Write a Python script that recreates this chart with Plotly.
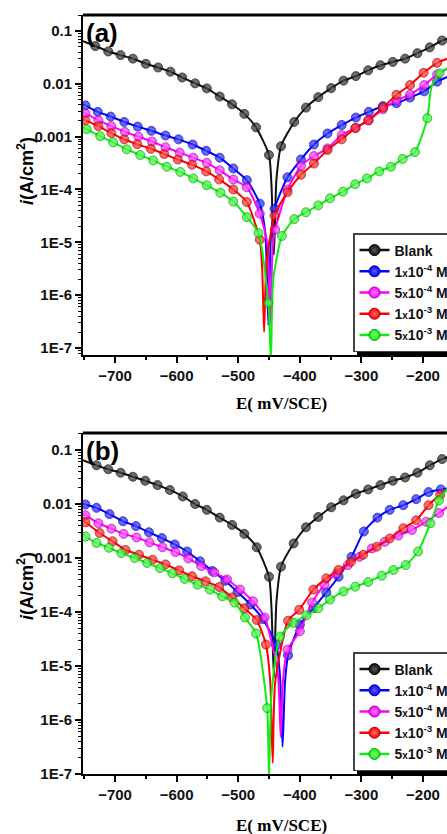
import plotly.graph_objects as go

# ---------------- Panel (a) ----------------
E_A_BLANK = [-732, -711, -691, -671, -650, -630, -610, -591, -570, -551, -530, -510, -490, -471, -450,
             -430.5, -409, -390, -370, -349, -329, -309, -289, -269, -249, -229, -209, -189, -169]
I_A_BLANK = [5.2e-2, 4.1e-2, 3.5e-2, 3.0e-2, 2.4e-2, 2.04e-2, 1.7e-2, 1.32e-2, 1.02e-2, 8.2e-3, 5.75e-3, 4.1e-3, 2.7e-3, 1.5e-3, 4.5e-4,
             6.6e-4, 1.9e-3, 3.55e-3, 5.6e-3, 8.3e-3, 1.15e-2, 1.4e-2, 1.8e-2, 2.25e-2, 2.6e-2, 3.0e-2, 3.8e-2, 4.9e-2, 6.6e-2]
E_A_BLANK_LINE = [-752, -446, -442, -438, -160]
I_A_BLANK_LINE = [6.4e-2, 1.2e-4, 5.8e-6, 1.5e-4, 7.1e-2]

E_A_1E4 = [-748, -728, -707, -685, -663, -641, -618, -597, -574, -552, -530, -508, -486, -465,
           -441, -420, -398, -377, -355, -332, -309, -288, -265, -243, -221, -198, -177]
I_A_1E4 = [3.9e-3, 2.95e-3, 2.4e-3, 1.9e-3, 1.55e-3, 1.29e-3, 1.05e-3, 8.9e-4, 7.1e-4, 5.4e-4, 4.0e-4, 2.5e-4, 1.5e-4, 5.4e-5,
           4.3e-5, 1.7e-4, 3.7e-4, 7.1e-4, 1.15e-3, 1.66e-3, 2.3e-3, 2.95e-3, 3.8e-3, 4.3e-3, 5.5e-3, 7.2e-3, 1.1e-2]
E_A_1E4_LINE = [-752, -456, -451, -447, -160]
I_A_1E4_LINE = [4.1e-3, 1.5e-5, 2.7e-7, 1.2e-5, 1.35e-2]

E_A_5E4 = [-748, -727, -706, -684, -662, -640, -618, -595, -573, -551, -530, -508, -486, -465,
           -440, -420, -398, -377, -355, -332, -309, -288, -265, -243, -221, -198, -177]
I_A_5E4 = [2.75e-3, 2.04e-3, 1.58e-3, 1.23e-3, 1.0e-3, 8.1e-4, 6.3e-4, 5.0e-4, 4.0e-4, 3.2e-4, 2.3e-4, 1.55e-4, 1.1e-4, 3.5e-5,
           1.74e-5, 1.0e-4, 2.8e-4, 4.3e-4, 6.0e-4, 1.07e-3, 1.48e-3, 2.04e-3, 3.3e-3, 4.8e-3, 6.3e-3, 9.5e-3, 1.5e-2]
E_A_5E4_LINE = [-752, -453, -448, -444, -160]
I_A_5E4_LINE = [2.9e-3, 1.0e-5, 2.9e-7, 8e-6, 1.95e-2]

E_A_1E3 = [-748, -727, -706, -685, -664, -642, -620, -598, -575, -552, -531, -508, -486, -465,
           -441, -420, -398, -377, -355, -332, -310, -289, -265, -243, -221, -199, -177]
I_A_1E3 = [2.04e-3, 1.58e-3, 1.17e-3, 8.9e-4, 7.2e-4, 5.9e-4, 4.7e-4, 3.7e-4, 2.95e-4, 2.2e-4, 1.55e-4, 1.0e-4, 5.8e-5, 1.12e-5,
           3.2e-5, 8.9e-5, 1.9e-4, 3.1e-4, 5.6e-4, 8.9e-4, 1.45e-3, 2.04e-3, 3.55e-3, 6.2e-3, 9.5e-3, 1.62e-2, 2.5e-2]
E_A_1E3_LINE = [-752, -461, -458, -454, -160]
I_A_1E3_LINE = [2.15e-3, 3e-6, 2.0e-7, 4e-6, 3.0e-2]

E_A_5E3 = [-746, -724, -703, -681, -659, -638, -616, -594, -573, -551, -529, -508, -486, -467, -451,
           -429, -409, -390, -370, -351, -330, -310, -291, -271, -252, -233, -213, -193, -173]
I_A_5E3 = [1.38e-3, 1.02e-3, 7.8e-4, 5.75e-4, 4.5e-4, 3.55e-4, 2.7e-4, 2.15e-4, 1.62e-4, 1.2e-4, 8.7e-5, 5.9e-5, 3.0e-5, 1.5e-5, 7.1e-7,
           1.32e-5, 2.75e-5, 3.7e-5, 5.0e-5, 6.8e-5, 9.1e-5, 1.26e-4, 1.62e-4, 2.2e-4, 2.7e-4, 3.8e-4, 5.1e-4, 2.24e-3, 1.58e-2]
E_A_5E3_LINE = [-752, -447, -443, -186, -160]
I_A_5E3_LINE = [1.5e-3, 6e-8, 2e-6, 8.9e-3, 2.0e-2]

# ---------------- Panel (b) ----------------
E_B_BLANK = [-730, -711, -691, -671, -651, -631, -611, -590, -570, -551, -530, -510, -490, -470, -450,
             -430.5, -410, -390, -370, -349, -329, -309, -289, -269, -249, -229, -209, -189, -169]
I_B_BLANK = [5.2e-2, 4.4e-2, 3.8e-2, 3.2e-2, 2.7e-2, 2.24e-2, 1.82e-2, 1.38e-2, 1.0e-2, 7.8e-3, 5.6e-3, 4.1e-3, 2.8e-3, 1.58e-3, 4.5e-4,
             6.9e-4, 1.86e-3, 3.7e-3, 5.75e-3, 8.7e-3, 1.17e-2, 1.55e-2, 1.86e-2, 2.24e-2, 2.7e-2, 3.1e-2, 3.8e-2, 5.2e-2, 6.8e-2]
E_B_BLANK_LINE = [-752, -446, -442, -438, -160]
I_B_BLANK_LINE = [6.5e-2, 1.2e-4, 6e-6, 1.5e-4, 7.4e-2]

E_B_1E4 = [-748, -730, -709, -687, -666, -645, -624, -603, -583, -562, -542, -521, -501, -480, -460, -438,
           -419, -400, -378, -357, -337, -316, -296, -274, -254, -232, -211, -191, -171]
I_B_1E4 = [9.8e-3, 8.5e-3, 6.5e-3, 4.8e-3, 3.9e-3, 3.0e-3, 2.34e-3, 1.78e-3, 1.32e-3, 8.7e-4, 5.75e-4, 3.8e-4, 2.34e-4, 1.38e-4, 7.4e-5, 2.45e-5,
           1.58e-5, 5.75e-5, 1.17e-4, 2.3e-4, 4.5e-4, 1.05e-3, 3.1e-3, 5.6e-3, 7.8e-3, 9.5e-3, 1.23e-2, 1.66e-2, 1.86e-2]
E_B_1E4_LINE = [-752, -432, -428, -424, -160]
I_B_1E4_LINE = [1.0e-2, 6e-6, 3.2e-7, 5e-6, 1.95e-2]

E_B_5E4 = [-748, -727, -706, -686, -665, -644, -623, -602, -581, -560, -539, -518, -497, -476, -457,
           -420, -400, -380, -360, -340, -322, -303, -283, -262, -240, -218, -195, -174]
I_B_5E4 = [6.2e-3, 4.4e-3, 3.5e-3, 2.8e-3, 2.4e-3, 1.95e-3, 1.58e-3, 1.29e-3, 9.8e-4, 7.1e-4, 5.4e-4, 4.0e-4, 2.6e-4, 1.58e-4, 7.9e-5,
           2.0e-5, 4.4e-5, 1.5e-4, 3.2e-4, 5.2e-4, 7.4e-4, 1.05e-3, 1.5e-3, 2.0e-3, 2.6e-3, 3.3e-3, 4.7e-3, 6.8e-3]
E_B_5E4_LINE = [-752, -436, -431, -427, -160]
I_B_5E4_LINE = [6.6e-3, 8e-6, 4.9e-7, 6e-6, 8.9e-3]

E_B_1E3 = [-748, -725, -704, -683, -661, -639, -618, -596, -575, -553, -531, -510, -490, -470, -455,
           -419, -401, -378, -357, -337, -317, -297, -275, -254, -232, -211, -191, -172]
I_B_1E3 = [4.6e-3, 2.9e-3, 2.04e-3, 1.41e-3, 1.15e-3, 9.3e-4, 7.6e-4, 5.9e-4, 4.6e-4, 3.7e-4, 2.9e-4, 1.86e-4, 1.17e-4, 7.1e-5, 2.5e-5,
           6.9e-5, 1.1e-4, 2.6e-4, 4.2e-4, 6.0e-4, 8.5e-4, 1.15e-3, 1.62e-3, 2.3e-3, 3.55e-3, 5.0e-3, 9.5e-3, 1.48e-2]
E_B_1E3_LINE = [-752, -448, -444, -440, -160]
I_B_1E3_LINE = [4.9e-3, 5e-6, 1.6e-7, 5e-6, 1.86e-2]

E_B_5E3 = [-748, -730, -710, -690, -668, -648, -627, -607, -587, -566, -546, -526, -506, -489, -471, -453,
           -432, -410, -389, -370, -351, -329, -310, -289, -267, -248, -228, -208, -188, -174]
I_B_5E3 = [2.5e-3, 1.9e-3, 1.55e-3, 1.23e-3, 1.0e-3, 8.1e-4, 6.5e-4, 5.2e-4, 4.1e-4, 3.2e-4, 2.6e-4, 1.95e-4, 1.5e-4, 7.9e-5, 4.0e-5, 1.66e-6,
           3.5e-5, 6.3e-5, 8.7e-5, 1.17e-4, 1.7e-4, 2.4e-4, 2.95e-4, 3.6e-4, 4.7e-4, 6.0e-4, 7.4e-4, 1.32e-3, 4.4e-3, 1.17e-2]
E_B_5E3_LINE = [-752, -450, -446, -160]
I_B_5E3_LINE = [2.7e-3, 9e-8, 3e-6, 1.95e-2]

SERIES_NAMES = ["Blank",
                "1<span style='font-size:10px'>x</span>10<sup>-4</sup> M",
                "5<span style='font-size:10px'>x</span>10<sup>-4</sup> M",
                "1<span style='font-size:10px'>x</span>10<sup>-3</sup> M",
                "5<span style='font-size:10px'>x</span>10<sup>-3</sup> M"]
COLORS = ["#111111", "#0000ff", "#ff00ff", "#ff0000", "#10ee10"]
EDGE = ["#000000", "#0000a0", "#a000a0", "#a00000", "#00a000"]
HILITE = ["#5a5a5a", "#6060ff", "#ff80ff", "#ff7070", "#80ff80"]

X_TICKS = [-700, -600, -500, -400, -300, -200]
Y_TICKVALS = [1e-7, 1e-6, 1e-5, 1e-4, 1e-3, 1e-2, 1e-1]
Y_TICKTEXT = ["1E-7", "1E-6", "1E-5", "1E-4", "0.001", "0.01", "0.1"]

PANEL_A = [(E_A_BLANK, I_A_BLANK, E_A_BLANK_LINE, I_A_BLANK_LINE),
           (E_A_1E4, I_A_1E4, E_A_1E4_LINE, I_A_1E4_LINE),
           (E_A_5E4, I_A_5E4, E_A_5E4_LINE, I_A_5E4_LINE),
           (E_A_1E3, I_A_1E3, E_A_1E3_LINE, I_A_1E3_LINE),
           (E_A_5E3, I_A_5E3, E_A_5E3_LINE, I_A_5E3_LINE)]
PANEL_B = [(E_B_BLANK, I_B_BLANK, E_B_BLANK_LINE, I_B_BLANK_LINE),
           (E_B_1E4, I_B_1E4, E_B_1E4_LINE, I_B_1E4_LINE),
           (E_B_5E4, I_B_5E4, E_B_5E4_LINE, I_B_5E4_LINE),
           (E_B_1E3, I_B_1E3, E_B_1E3_LINE, I_B_1E3_LINE),
           (E_B_5E3, I_B_5E3, E_B_5E3_LINE, I_B_5E3_LINE)]

fig = go.Figure()

MS = 9
for panel, (xa, ya, leg) in ((PANEL_A, ("x", "y", "legend")), (PANEL_B, ("x2", "y2", "legend2"))):
    for k, (em, im, el, il) in enumerate(panel):
        pts = [(e, i, True) for e, i in zip(em, im)] + [(e, i, False) for e, i in zip(el, il)]
        pts.sort(key=lambda p: p[0])
        xs = [p[0] for p in pts]
        ys = [p[1] for p in pts]
        sizes = [MS if p[2] else 0 for p in pts]
        lws = [1 if p[2] else 0 for p in pts]
        fig.add_trace(go.Scatter(
            x=xs, y=ys, xaxis=xa, yaxis=ya, mode="lines+markers", showlegend=False,
            line=dict(color=COLORS[k], width=2, shape="spline", smoothing=0.6),
            marker=dict(size=sizes, color=COLORS[k], symbol="circle",
                        gradient=dict(type="radial", color=HILITE[k]),
                        line=dict(color=EDGE[k], width=lws)),
            hoverinfo="skip"))
        fig.add_trace(go.Scatter(
            x=[None], y=[None], xaxis=xa, yaxis=ya, mode="lines+markers", name=SERIES_NAMES[k],
            legend=leg, line=dict(color=COLORS[k], width=2.5),
            marker=dict(size=11, color=COLORS[k], gradient=dict(type="radial", color=HILITE[k]),
                        line=dict(color=EDGE[k], width=1))))

W, H = 447, 834
ML, MR, MT, MB = 83, 0, 15, 60
PH = H - MT - MB
def py(p):
    return (H - MB - p) / PH
def px(p):
    return (p - ML) / (W - ML - MR)

minor_vals = [m * 10 ** d for d in range(-8, 0) for m in range(2, 10)]

def xaxis_cfg(anchor):
    return dict(domain=[0, 1], anchor=anchor, range=[-752, -161], showline=True, linewidth=2,
                linecolor="black", ticks="outside", ticklen=6, tickwidth=2, tickcolor="black",
                tickvals=X_TICKS, showgrid=False, zeroline=False,
                tickfont=dict(family="Liberation Sans, Arial", size=15, color="#111", weight="bold"),
                minor=dict(ticks="outside", ticklen=3, tickwidth=1.5, tickcolor="black",
                           tickvals=[-750, -650, -550, -450, -350, -250, -150]))

def yaxis_cfg(anchor, domain, rng):
    return dict(domain=domain, anchor=anchor, type="log", range=rng, showline=True, linewidth=2,
                linecolor="black", ticks="outside", ticklen=6, tickwidth=2, tickcolor="black",
                tickvals=Y_TICKVALS, ticktext=Y_TICKTEXT, showgrid=False, zeroline=False,
                tickfont=dict(family="Liberation Sans, Arial", size=15, color="#111", weight="bold"),
                minor=dict(ticks="outside", ticklen=3, tickwidth=1, tickcolor="black",
                           tickvals=minor_vals))

DOM_A = [py(355), 1.0]
DOM_B = [0.0, py(433)]

LEGFONT = dict(family="Liberation Sans, Arial", size=14, color="#111", weight="bold")
fig.update_layout(
    width=W, height=H, autosize=False,
    margin=dict(l=ML, r=MR, t=MT, b=MB, autoexpand=False),
    paper_bgcolor="white", plot_bgcolor="white",
    xaxis=xaxis_cfg("y"),
    yaxis=yaxis_cfg("x", DOM_A, [-7.133, -0.697]),
    xaxis2=xaxis_cfg("y2"),
    yaxis2=yaxis_cfg("x2", DOM_B, [-7.0, -0.685]),
    legend=dict(x=px(353), y=py(233), xanchor="left", yanchor="top", bgcolor="white",
                bordercolor="#444", borderwidth=1.5, itemwidth=30, tracegroupgap=0, font=LEGFONT),
    legend2=dict(x=px(353), y=py(652), xanchor="left", yanchor="top", bgcolor="white",
                 bordercolor="#444", borderwidth=1.5, itemwidth=30, tracegroupgap=0, font=LEGFONT),
)

shapes = []
for ytop in (1.0, py(433)):
    shapes.append(dict(type="line", xref="paper", yref="paper", x0=0, x1=1, y0=ytop, y1=ytop,
                       line=dict(color="black", width=3)))
for ybot in (349, 768):
    shapes.append(dict(type="rect", xref="paper", yref="paper", x0=px(357), x1=1.05,
                       y0=py(ybot + 6), y1=py(ybot), fillcolor="black", line=dict(width=0)))
fig.update_layout(shapes=shapes)

ann = []
for lab, ytop in (("(a)", 16), ("(b)", 434)):
    ann.append(dict(text="<b>" + lab + "</b>", xref="paper", yref="paper", x=px(84), y=py(ytop),
                    xanchor="left", yanchor="top", showarrow=False,
                    font=dict(family="Liberation Sans, Arial", size=26, color="black")))
for yt in (403, 826):
    ann.append(dict(text="<b>E( mV/SCE)</b>", xref="paper", yref="paper", x=px(281), y=py(yt),
                    xanchor="center", yanchor="middle", showarrow=False,
                    font=dict(family="Liberation Serif, Times New Roman", size=17, color="black")))
for yc in (171, 586):
    ann.append(dict(text="<b><i>i</i>(A/cm<sup>2</sup>)</b>", xref="paper", yref="paper",
                    x=px(25), y=py(yc), xanchor="center", yanchor="middle", textangle=-90,
                    showarrow=False, font=dict(family="Liberation Sans, Arial", size=18, color="black")))
fig.update_layout(annotations=ann)

fig.write_html("out.html", config={"displayModeBar": False},
               post_script="document.body.style.margin='0px';document.body.style.overflow='hidden';")
